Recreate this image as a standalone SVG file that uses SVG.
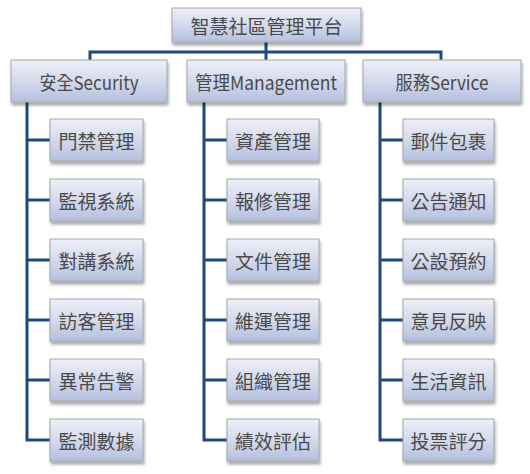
<svg xmlns="http://www.w3.org/2000/svg" width="530" height="474" viewBox="0 0 530 474">
<defs>
<linearGradient id="g" x1="0" y1="0" x2="0" y2="1">
<stop offset="0" stop-color="#EEF0F8"/>
<stop offset="0.5" stop-color="#D4DAEC"/>
<stop offset="1" stop-color="#B4C0DF"/>
</linearGradient>
<filter id="sh" x="-10%" y="-10%" width="125%" height="140%">
<feGaussianBlur in="SourceAlpha" stdDeviation="1.5"/>
<feOffset dx="1" dy="2.5" result="b"/>
<feComponentTransfer><feFuncA type="linear" slope="0.35"/></feComponentTransfer>
<feMerge><feMergeNode/><feMergeNode in="SourceGraphic"/></feMerge>
</filter>
</defs>
<style>
.box{fill:url(#g);stroke:#A6A6A6;stroke-width:1;filter:url(#sh)}
.t{font-family:"Noto Sans CJK TC","Noto Sans CJK SC",sans-serif;font-size:19px;fill:#4A4A4A;text-anchor:middle;dominant-baseline:central}
.c{fill:none;stroke:#1F497D;stroke-width:3}
</style>
<rect width="530" height="474" fill="#FFFFFF"/>
<g id="connectors">
<path class="c" d="M266 42V52M90 60V52H441V60M266 52V60"/>
<path class="c" d="M27 102V440H50M27 140H50M27 200H50M27 260H50M27 320H50M27 380H50"/>
<path class="c" d="M204 102V440H227M204 140H227M204 200H227M204 260H227M204 320H227M204 380H227"/>
<path class="c" d="M380 102V440H403M380 140H403M380 200H403M380 260H403M380 320H403M380 380H403"/>
</g>
<g id="root"><rect class="box" x="172" y="8" width="189" height="34"/><text class="t" x="266.5" y="25">智慧社區管理平台</text></g>
<g id="security"><rect class="box" x="11" y="60" width="156" height="42"/><text class="t" x="89" y="81" textLength="99" lengthAdjust="spacingAndGlyphs">安全Security</text></g>
<g id="management"><rect class="box" x="187" y="60" width="158" height="42"/><text class="t" x="266" y="81" textLength="142" lengthAdjust="spacingAndGlyphs">管理Management</text></g>
<g id="service"><rect class="box" x="363" y="60" width="158" height="42"/><text class="t" x="442" y="81" textLength="93" lengthAdjust="spacingAndGlyphs">服務Service</text></g>
<g id="s1"><rect class="box" x="50" y="119" width="93" height="42"/><text class="t" x="96.5" y="140">門禁管理</text></g>
<g id="s2"><rect class="box" x="50" y="179" width="93" height="42"/><text class="t" x="96.5" y="200">監視系統</text></g>
<g id="s3"><rect class="box" x="50" y="239" width="93" height="42"/><text class="t" x="96.5" y="260">對講系統</text></g>
<g id="s4"><rect class="box" x="50" y="299" width="93" height="42"/><text class="t" x="96.5" y="320">訪客管理</text></g>
<g id="s5"><rect class="box" x="50" y="359" width="93" height="42"/><text class="t" x="96.5" y="380">異常告警</text></g>
<g id="s6"><rect class="box" x="50" y="419" width="93" height="42"/><text class="t" x="96.5" y="440">監測數據</text></g>
<g id="m1"><rect class="box" x="227" y="119" width="92" height="42"/><text class="t" x="273" y="140">資產管理</text></g>
<g id="m2"><rect class="box" x="227" y="179" width="92" height="42"/><text class="t" x="273" y="200">報修管理</text></g>
<g id="m3"><rect class="box" x="227" y="239" width="92" height="42"/><text class="t" x="273" y="260">文件管理</text></g>
<g id="m4"><rect class="box" x="227" y="299" width="92" height="42"/><text class="t" x="273" y="320">維運管理</text></g>
<g id="m5"><rect class="box" x="227" y="359" width="92" height="42"/><text class="t" x="273" y="380">組織管理</text></g>
<g id="m6"><rect class="box" x="227" y="419" width="92" height="42"/><text class="t" x="273" y="440">績效評估</text></g>
<g id="v1"><rect class="box" x="403" y="119" width="91" height="42"/><text class="t" x="448.5" y="140">郵件包裹</text></g>
<g id="v2"><rect class="box" x="403" y="179" width="91" height="42"/><text class="t" x="448.5" y="200">公告通知</text></g>
<g id="v3"><rect class="box" x="403" y="239" width="91" height="42"/><text class="t" x="448.5" y="260">公設預約</text></g>
<g id="v4"><rect class="box" x="403" y="299" width="91" height="42"/><text class="t" x="448.5" y="320">意見反映</text></g>
<g id="v5"><rect class="box" x="403" y="359" width="91" height="42"/><text class="t" x="448.5" y="380">生活資訊</text></g>
<g id="v6"><rect class="box" x="403" y="419" width="91" height="42"/><text class="t" x="448.5" y="440">投票評分</text></g>
</svg>
